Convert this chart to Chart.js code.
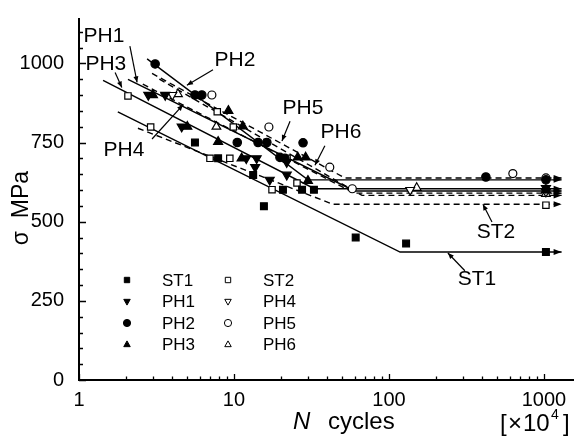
<!DOCTYPE html>
<html lang="en">
<head>
<meta charset="UTF-8" />
<title>S-N curves</title>
<script src="https://cdn.jsdelivr.net/npm/chart.js"></script>
<style>
  html, body { margin: 0; padding: 0; background: #fff; }
</style>
</head>
<body>
<canvas id="snChart" width="587" height="439"></canvas>

<script>
// N in units of 10^4 cycles, stress amplitude in MPa
const st1Pts = [[5.6,750],[7.9,700],[13.3,647],[15.6,549],[20.7,601],[27.5,601],[32.8,601],[61,450],[129,431],[1030,404]];
const st2Pts = [[2.07,897],[2.9,799],[7.8,847],[9.9,799],[7.0,700],[9.4,700],[17.6,601],[22,700],[25.5,622],[1030,552]];
const ph1Pts = [[2.8,900],[3.6,900],[4.6,800],[12,700],[14,700],[13.7,672],[17,632],[21.9,688],[21.9,648],[1030,606]];
const ph2Pts = [[3.1,998],[5.6,900],[6.2,900],[10.5,750],[14.3,750],[16.3,750],[19.8,703],[21.3,700],[27.9,749],[422,641],[1030,632]];
const ph3Pts = [[3.0,900],[5.0,800],[7.9,752],[9.2,850],[11.4,801],[11.2,700],[25.8,703],[29,703],[30,629],[1030,600]];
const ph4Pts = [[4.0,900],[137,600],[1030,594]];
const ph5Pts = [[7.2,900],[16.8,799],[41.5,672],[58,604],[630,652],[1030,638]];
const ph6Pts = [[4.35,903],[7.7,800],[151,607],[1030,588]];

// fitted S-N lines: start, knee, run-out end
const st1LineN = [1.78, 118, 1300], st1LineS = [847, 404, 404];
const st2LineN = [2.4, 43.5, 1300], st2LineS = [795, 555, 555];
const ph1LineN = [2.07, 60, 1300],  ph1LineS = [949, 597, 597];
const ph2LineN = [2.75, 30, 1300],  ph2LineS = [1014, 632, 632];
const ph3LineN = [1.43, 33, 1300],  ph3LineS = [946, 604, 604];
const ph4LineN = [2.58, 60, 1300],  ph4LineS = [934, 590, 590];
const ph5LineN = [2.96, 52, 1300],  ph5LineS = [968, 638, 638];
const ph6LineN = [3.3, 67, 1300],   ph6LineS = [950, 583, 583];

const xTickLabels = [1, 10, 100, 1000];
const yTickLabels = [0, 250, 500, 750, 1000];

// curve labels: text, label centre, pointer start, pointer tip (N, MPa)
const curveLabels = ['PH1', 'PH3', 'PH2', 'PH4', 'PH5', 'PH6', 'ST2', 'ST1'];
const labelAt = [[1.45,1085],[1.49,998],[10.15,1011],[1.95,727],[27.9,857],[49,783],[490,468],[370,317]];
const pointerFrom = [[2.13,1054],[1.71,971],[7.32,980],[2.96,761],[23,817],[38.6,740],[462,499],[309,345]];
const pointerTo = [[2.37,940],[1.89,924],[4.97,931],[4.69,869],[20.4,755],[33.3,678],[404,555],[240,401]];

const FONT = '"Liberation Sans", Arial, sans-serif';
const toXY = arr => arr.map(p => ({ x: p[0], y: p[1] }));
const lineXY = (ns, ss) => ns.map((n, i) => ({ x: n, y: ss[i] }));

// marker styles
const series = [
  { label: 'ST1', pts: st1Pts, style: 'rect', filled: true, r: 4.8, rot: 0 },
  { label: 'PH1', pts: ph1Pts, style: 'triangle', filled: true, r: 5.2, rot: 180 },
  { label: 'PH2', pts: ph2Pts, style: 'circle', filled: true, r: 4.2, rot: 0 },
  { label: 'PH3', pts: ph3Pts, style: 'triangle', filled: true, r: 5.2, rot: 0 },
  { label: 'ST2', pts: st2Pts, style: 'rect', filled: false, r: 4.5, rot: 0 },
  { label: 'PH4', pts: ph4Pts, style: 'triangle', filled: false, r: 5, rot: 180 },
  { label: 'PH5', pts: ph5Pts, style: 'circle', filled: false, r: 4, rot: 0 },
  { label: 'PH6', pts: ph6Pts, style: 'triangle', filled: false, r: 5, rot: 0 }
];

const fitLines = [
  [st1LineN, st1LineS, false], [st2LineN, st2LineS, true],
  [ph1LineN, ph1LineS, false], [ph2LineN, ph2LineS, false],
  [ph3LineN, ph3LineS, false], [ph4LineN, ph4LineS, true],
  [ph5LineN, ph5LineS, true],  [ph6LineN, ph6LineS, true]
];

const datasets = [];
fitLines.forEach(l => {
  datasets.push({
    data: lineXY(l[0], l[1]),
    showLine: true,
    borderColor: '#000',
    borderWidth: 1.4,
    borderDash: l[2] ? [6, 4] : [],
    pointRadius: 0,
    order: 2,
    runout: true
  });
});
series.forEach(s => {
  datasets.push({
    label: s.label,
    data: toXY(s.pts),
    pointStyle: s.style,
    rotation: s.rot,
    pointRadius: s.r,
    backgroundColor: s.filled ? '#000' : '#fff',
    borderColor: '#000',
    borderWidth: 1.2,
    showLine: false,
    order: 0
  });
});

function drawMarker(ctx, s, x, y, r) {
  ctx.save();
  ctx.translate(x, y);
  if (s.rot) ctx.rotate(Math.PI);
  ctx.beginPath();
  if (s.style === 'rect') {
    ctx.rect(-r * 0.75, -r * 0.75, r * 1.5, r * 1.5);
  } else if (s.style === 'circle') {
    ctx.arc(0, 0, r, 0, Math.PI * 2);
  } else {
    ctx.moveTo(0, -r);
    ctx.lineTo(r * 0.9, r * 0.6);
    ctx.lineTo(-r * 0.9, r * 0.6);
    ctx.closePath();
  }
  ctx.fillStyle = s.filled ? '#000' : '#fff';
  ctx.fill();
  ctx.lineWidth = 1;
  ctx.strokeStyle = '#000';
  ctx.stroke();
  ctx.restore();
}

function arrowHead(ctx, x0, y0, x1, y1, len, half) {
  const a = Math.atan2(y1 - y0, x1 - x0);
  ctx.beginPath();
  ctx.moveTo(x1, y1);
  ctx.lineTo(x1 - len * Math.cos(a) + half * Math.sin(a), y1 - len * Math.sin(a) - half * Math.cos(a));
  ctx.lineTo(x1 - len * Math.cos(a) - half * Math.sin(a), y1 - len * Math.sin(a) + half * Math.cos(a));
  ctx.closePath();
  ctx.fill();
}

const decor = {
  id: 'decor',
  beforeDraw(chart) {
    const ctx = chart.ctx;
    ctx.save();
    ctx.fillStyle = '#fff';
    ctx.fillRect(0, 0, chart.width, chart.height);
    ctx.restore();
  },
  afterDraw(chart) {
    const ctx = chart.ctx, a = chart.chartArea;
    const xs = chart.scales.x, ys = chart.scales.y;
    const px = v => xs.getPixelForValue(v), py = v => ys.getPixelForValue(v);
    ctx.save();
    ctx.strokeStyle = '#000';
    ctx.fillStyle = '#000';

    // inward ticks
    ctx.lineWidth = 1.3;
    ctx.beginPath();
    for (let d = 1; d <= 1000; d *= 10) {
      for (let m = 1; m <= 9; m++) {
        const v = d * m;
        if (v > xs.max) break;
        const x = Math.round(px(v)) + 0.5;
        ctx.moveTo(x, a.bottom);
        ctx.lineTo(x, a.bottom - (m === 1 ? 6 : 3.5));
      }
    }
    for (let v = 0; v <= ys.max; v += 50) {
      const y = Math.round(py(v)) + 0.5;
      ctx.moveTo(a.left, y);
      ctx.lineTo(a.left + (v % 250 === 0 ? 7 : 4), y);
    }
    ctx.stroke();

    // run-out arrows at the end of each fit line
    chart.data.datasets.forEach(ds => {
      if (!ds.runout) return;
      const last = ds.data[ds.data.length - 1];
      const x = px(last.x), y = py(last.y);
      arrowHead(ctx, x - 10, y, x, y, 8, 3);
    });

    // curve labels with pointers
    ctx.font = '21px ' + FONT;
    ctx.textAlign = 'center';
    ctx.textBaseline = 'middle';
    ctx.lineWidth = 1.2;
    curveLabels.forEach((t, i) => {
      ctx.fillText(t, px(labelAt[i][0]), py(labelAt[i][1]));
      const x0 = px(pointerFrom[i][0]), y0 = py(pointerFrom[i][1]);
      const x1 = px(pointerTo[i][0]), y1 = py(pointerTo[i][1]);
      ctx.beginPath();
      ctx.moveTo(x0, y0);
      ctx.lineTo(x1, y1);
      ctx.stroke();
      arrowHead(ctx, x0, y0, x1, y1, 6, 2.5);
    });

    // legend, two columns
    ctx.font = '17px ' + FONT;
    ctx.textAlign = 'left';
    series.forEach((s, i) => {
      const col = Math.floor(i / 4), row = i % 4;
      const mx = a.left + 48 + col * 101, my = a.top + 261 + row * 21.5;
      drawMarker(ctx, s, mx, my, 3.6);
      ctx.fillStyle = '#000';
      ctx.fillText(s.label, mx + 35, my + 1);
    });

    // axis titles
    ctx.save();
    ctx.translate(22, 208);
    ctx.rotate(-Math.PI / 2);
    ctx.font = '23px ' + FONT;
    ctx.textAlign = 'center';
    ctx.fillText('\u03c3  MPa', 0, 0);
    ctx.restore();

    ctx.textBaseline = 'alphabetic';
    ctx.textAlign = 'left';
    ctx.font = 'italic 24px ' + FONT;
    ctx.fillText('N', 293, 429);
    ctx.font = '24px ' + FONT;
    ctx.fillText('cycles', 328, 429);

    // unit note [x10^4]
    ctx.font = '24px ' + FONT;
    ctx.fillText('[', 500, 431);
    ctx.fillText('\u00d7', 508, 431);
    ctx.fillText('10', 523, 431);
    ctx.fillText(']', 563, 431);
    ctx.font = '14px ' + FONT;
    ctx.fillText('4', 551, 419);
    ctx.restore();
  }
};

new Chart(document.getElementById('snChart'), {
  type: 'scatter',
  data: { datasets: datasets },
  plugins: [decor],
  options: {
    responsive: false,
    animation: false,
    devicePixelRatio: 1,
    layout: { padding: { left: 0, top: 9, right: 14, bottom: 0 } },
    plugins: { legend: { display: false }, tooltip: { enabled: false } },
    scales: {
      x: {
        type: 'logarithmic',
        min: 1,
        max: 1540,
        afterFit: s => { s.height = 59; },
        grid: { display: false },
        border: { display: true, color: '#000', width: 2 },
        ticks: {
          autoSkip: false,
          maxRotation: 0,
          padding: 0,
          color: '#000',
          font: { family: FONT, size: 20 },
          callback: v => xTickLabels.includes(v) ? String(v) : ''
        }
      },
      y: {
        min: 0,
        max: 1140,
        afterFit: s => { s.width = 79; },
        grid: { display: false },
        border: { display: true, color: '#000', width: 2 },
        ticks: {
          stepSize: 50,
          autoSkip: false,
          padding: 7,
          color: '#000',
          font: { family: FONT, size: 20 },
          callback: v => yTickLabels.includes(v) ? String(v) : ''
        }
      }
    }
  }
});
</script>
</body>
</html>
